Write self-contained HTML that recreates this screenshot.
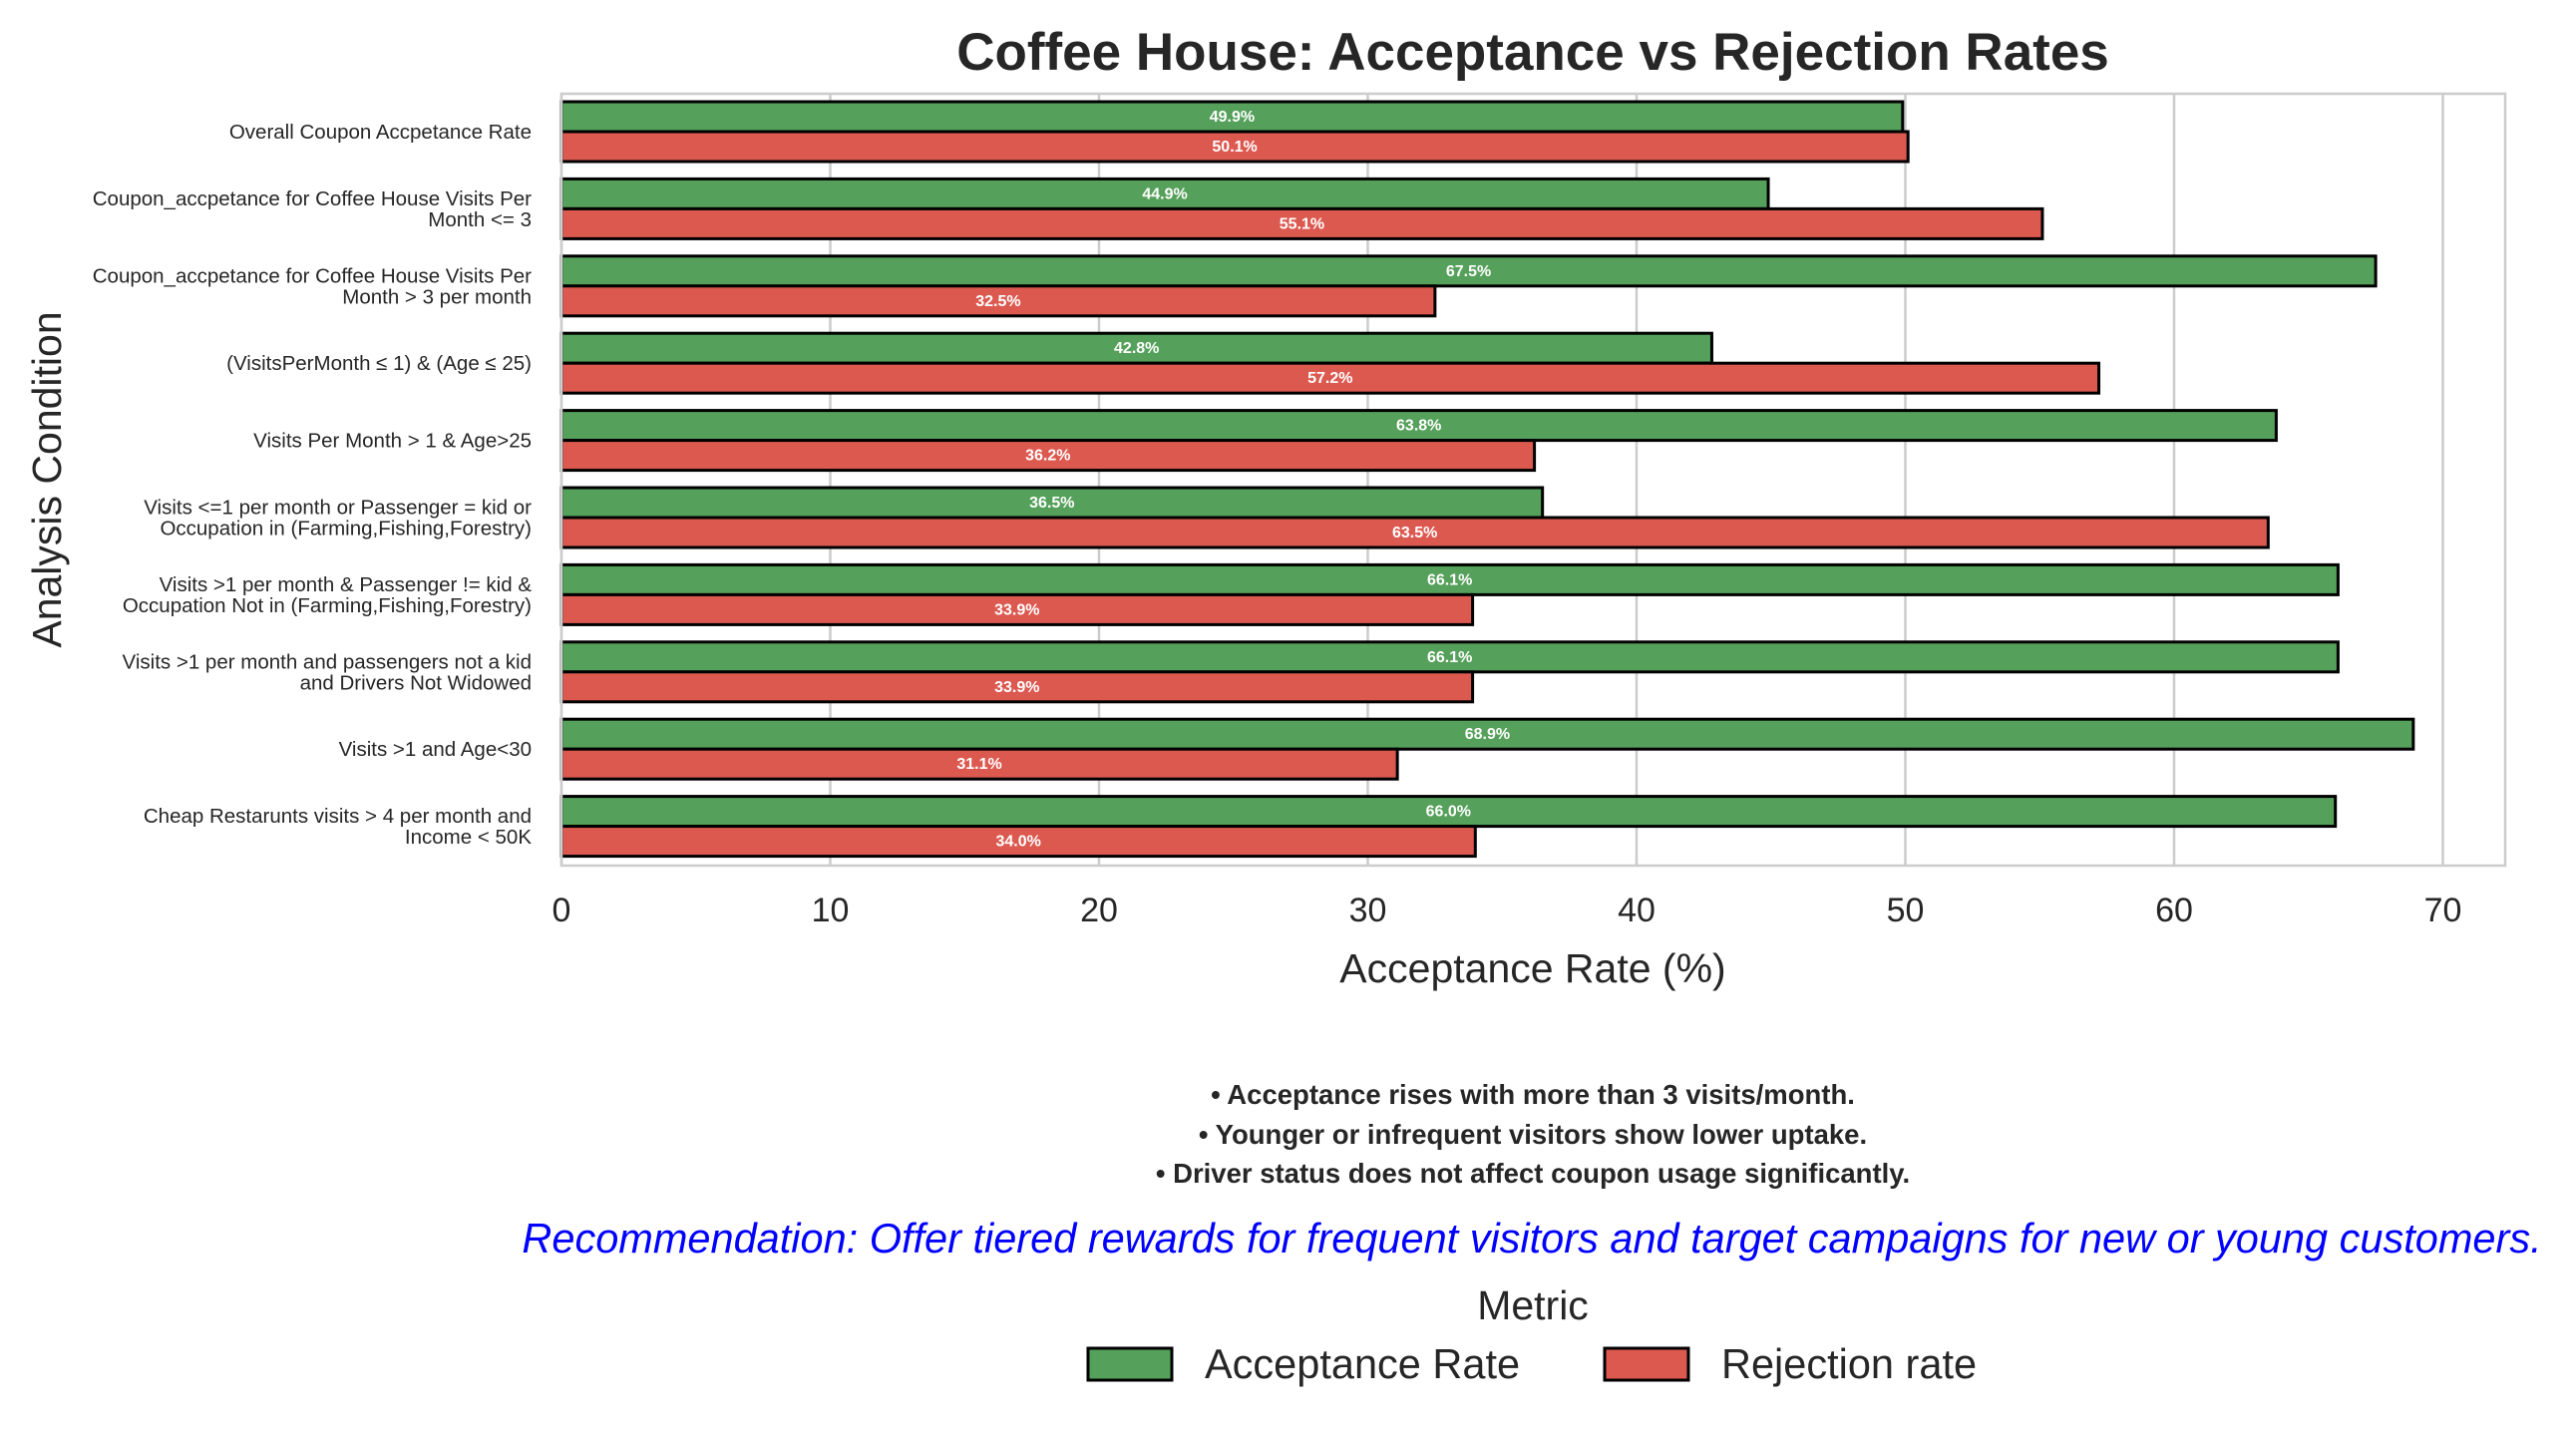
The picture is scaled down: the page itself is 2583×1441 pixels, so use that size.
<!DOCTYPE html>
<html><head><meta charset="utf-8"><style>
body{margin:0;background:#fff;}
svg text{font-family:"Liberation Sans",sans-serif;}
</style></head><body>
<svg id="chart" width="2583" height="1436" viewBox="0 0 2583 1436" xmlns="http://www.w3.org/2000/svg">
<text x="1537" y="70" text-anchor="middle" font-size="53" font-weight="bold" fill="#262626">Coffee House: Acceptance vs Rejection Rates</text>
<g id="grid"></g>
<g id="bars"></g>
<g id="ylabels"></g>
<g id="xticks"></g>
<rect x="563" y="94" width="1949" height="774" fill="none" stroke="#cccccc" stroke-width="2.5"/>
<text x="1537" y="985" text-anchor="middle" font-size="41" fill="#262626">Acceptance Rate (%)</text>
<text transform="translate(61,481) rotate(-90)" text-anchor="middle" font-size="41" fill="#262626">Analysis Condition</text>
<g font-size="27.5" font-weight="bold" fill="#262626" text-anchor="middle">
<text x="1537" y="1107">• Acceptance rises with more than 3 visits/month.</text>
<text x="1537" y="1147">• Younger or infrequent visitors show lower uptake.</text>
<text x="1537" y="1186">• Driver status does not affect coupon usage significantly.</text>
</g>
<text x="1536" y="1256" text-anchor="middle" font-size="41.5" font-style="italic" fill="#0000ff">Recommendation: Offer tiered rewards for frequent visitors and target campaigns for new or young customers.</text>
<text x="1537" y="1323" text-anchor="middle" font-size="41" fill="#262626">Metric</text>
<g>
<rect x="1091" y="1352" width="84" height="32" fill="#55a05a" stroke="#000" stroke-width="3"/>
<text x="1208" y="1382" font-size="41.5" fill="#262626">Acceptance Rate</text>
</g>
<g>
<rect x="1609" y="1352" width="84" height="32" fill="#dc5950" stroke="#000" stroke-width="3"/>
<text x="1726" y="1382" font-size="41.5" fill="#262626">Rejection rate</text>
</g>
</svg>
<script>
const categories = [
 ["Overall Coupon Accpetance Rate"],
 ["Coupon_accpetance for Coffee House Visits Per","Month <= 3"],
 ["Coupon_accpetance for Coffee House Visits Per","Month > 3 per month"],
 ["(VisitsPerMonth ≤ 1) & (Age ≤ 25)"],
 ["Visits Per Month > 1 & Age>25"],
 ["Visits <=1 per month or Passenger = kid or","Occupation in (Farming,Fishing,Forestry)"],
 ["Visits >1 per month & Passenger != kid &","Occupation Not in (Farming,Fishing,Forestry)"],
 ["Visits >1 per month and passengers not a kid","and Drivers Not Widowed"],
 ["Visits >1 and Age<30"],
 ["Cheap Restarunts visits > 4 per month and","Income < 50K"]
];
const acceptance = [49.9,44.9,67.5,42.8,63.8,36.5,66.1,66.1,68.9,66.0];
const rejection = [50.1,55.1,32.5,57.2,36.2,63.5,33.9,33.9,31.1,34.0];
const xTicks = [0,10,20,30,40,50,60,70];

const NS="http://www.w3.org/2000/svg";
const X0=563, PXU=26.95, Y0=132, STEP=77.4, BH=30;
const xs=v=>X0+v*PXU;
const yc=i=>Y0+i*STEP;
function mk(tag,attrs,parent,txt){const e=document.createElementNS(NS,tag);for(const k in attrs)e.setAttribute(k,attrs[k]);if(txt!==undefined)e.textContent=txt;parent.appendChild(e);return e;}
const grid=document.getElementById('grid'),bars=document.getElementById('bars'),yl=document.getElementById('ylabels'),xt=document.getElementById('xticks');
xTicks.forEach(t=>{
 const l=mk('line',{x1:xs(t),x2:xs(t),y1:94,y2:868,stroke:'#cccccc','stroke-width':2.5},grid);
 
 
 const tx=mk('text',{x:xs(t),y:924,'text-anchor':'middle','font-size':34,fill:'#262626'},xt,String(t));
 
 
});
function bar(v,y,color,name){
 const r=mk('rect',{x:xs(0),y:y,width:xs(v)-xs(0),height:BH,fill:color,stroke:'#000','stroke-width':3},bars);
 
 
 const t=mk('text',{x:xs(v/2),y:y+BH/2+5,'text-anchor':'middle','font-size':16,'font-weight':'bold',fill:'#fff'},bars,v.toFixed(1)+'%');
 
 
}
categories.forEach((c,i)=>{
 bar(acceptance[i],yc(i)-BH,'#55a05a','bar-acceptance');
 bar(rejection[i],yc(i),'#dc5950','bar-rejection');
 const n=c.length;
 c.forEach((line,j)=>{
  const t=mk('text',{x:533,y:yc(i)+7+(j-(n-1)/2)*21,'text-anchor':'end','font-size':20.5,fill:'#262626'},yl,line);
  
  
 });
});
</script>
</body></html>
